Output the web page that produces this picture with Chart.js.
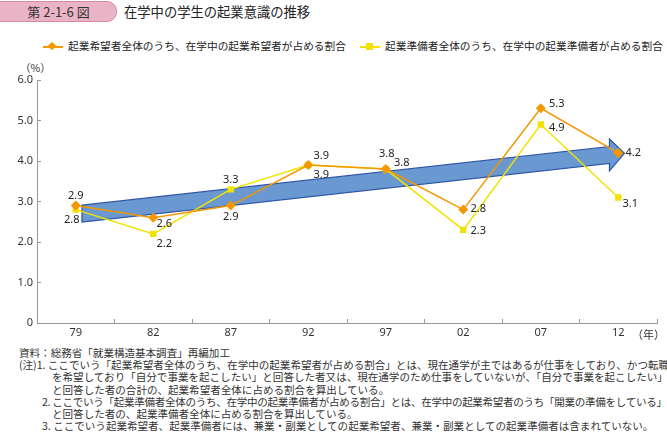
<!DOCTYPE html>
<html lang="ja">
<head>
<meta charset="utf-8">
<script src="https://cdn.jsdelivr.net/npm/chart.js@4"></script>
<style>
  body { margin: 0; width: 667px; height: 433px; position: relative; overflow: hidden; background: #fff;
         font-family: "Noto Sans CJK JP", "Noto Sans", sans-serif; color: #333; }
  #badge { position: absolute; left: -12px; top: 1px; width: 127px; height: 19px; background: #eab3c6;
           border: 1px solid #d58aa5; border-radius: 10px; text-align: center; font-size: 13px; line-height: 19px; color: #333; }
  #badge span { margin-left: 12px; }
  #title { position: absolute; left: 124px; top: 2px; font-size: 13.3px; line-height: 19px; color: #222; }
  .leg { position: absolute; top: 39px; font-size: 10.7px; line-height: 14px; color: #222; white-space: nowrap; }
  .leg i { display: inline-block; position: relative; width: 20px; height: 14px; vertical-align: top; margin-right: 5px; }
  .leg i:before { content: ""; position: absolute; left: 0; top: 7px; width: 20px; height: 1.5px; }
  .leg i:after { content: ""; position: absolute; }
  #leg1 { left: 43px; }
  #leg1 i:before { background: #f39800; }
  #leg1 i:after { left: 6px; top: 4px; width: 6px; height: 6px; background: #f39800; transform: rotate(45deg); }
  #leg2 { left: 360px; }
  #leg2 i:before { background: #f2e200; }
  #leg2 i:after { left: 6px; top: 4px; width: 7px; height: 7px; background: #f2e200; }
  #wrap { position: absolute; left: 0; top: 60px; width: 667px; height: 280px; }
  #pct { position: absolute; left: 20px; top: 60px; font-size: 10.5px; color: #333; }
  #year { position: absolute; left: 632px; top: 326px; font-size: 11px; color: #333; }
  #notes { position: absolute; left: 19px; top: 347px; font-size: 10.55px; line-height: 12.2px; color: #333; white-space: nowrap; }
  #notes div { white-space: nowrap; }
  .in1 { padding-left: 23px; }
  .in2 { padding-left: 33px; }
  .tight { letter-spacing: -0.3px; }
</style>
</head>
<body>
<div id="badge"><span>第 2-1-6 図</span></div>
<div id="title">在学中の学生の起業意識の推移</div>
<div class="leg" id="leg1"><i></i>起業希望者全体のうち、在学中の起業希望者が占める割合</div>
<div class="leg" id="leg2"><i></i>起業準備者全体のうち、在学中の起業準備者が占める割合</div>
<div id="pct">（%）</div>
<div id="wrap"><canvas id="chart"></canvas></div>
<div id="year">（年）</div>
<div id="notes">
  <div>資料：総務省「就業構造基本調査」再編加工</div>
  <div>(注)1. ここでいう「起業希望者全体のうち、在学中の起業希望者が占める割合」とは、現在通学が主ではあるが仕事をしており、かつ転職</div>
  <div class="in2">を希望しており「自分で事業を起こしたい」と回答した者又は、現在通学のため仕事をしていないが、「自分で事業を起こしたい」</div>
  <div class="in2">と回答した者の合計の、起業希望者全体に占める割合を算出している。</div>
  <div class="in1 tight">2. ここでいう「起業準備者全体のうち、在学中の起業準備者が占める割合」とは、在学中の起業希望者のうち「開業の準備をしている」</div>
  <div class="in2">と回答した者の、起業準備者全体に占める割合を算出している。</div>
  <div class="in1">3. ここでいう起業希望者、起業準備者には、兼業・副業としての起業希望者、兼業・副業としての起業準備者は含まれていない。</div>
</div>
<script>
const years = ["79", "82", "87", "92", "97", "02", "07", "12"];
const kibouShare = [2.9, 2.6, 2.9, 3.9, 3.8, 2.8, 5.3, 4.2];
const junbiShare = [2.8, 2.2, 3.3, 3.9, 3.8, 2.3, 4.9, 3.1];
const yTicks = [0, 1, 2, 3, 4, 5, 6];
// trend arrow, in axis units (category index, %)
const arrowFrom = [0.08, 2.7];
const arrowTo = [7.08, 4.19];

// label offsets in px from each point (style only)
const kibouLabelOffset = [[0, -10], [11, 6], [0, 11], [13, 10], [16, -6], [15, -1], [16, -4], [15, 0]];
const junbiLabelOffset = [[-4, 10], [11, 10], [0, -9], [13, -9], [1, -15], [15, 1], [16, 3], [12, 6]];

const ORANGE = "#f39800";
const YELLOW = "#f2e200";

const arrowPlugin = {
    id: "trendArrow",
    beforeDatasetsDraw(chart) {
        const x = chart.scales.x, y = chart.scales.y;
        const ctx = chart.ctx;
        const x0 = x.getPixelForValue(arrowFrom[0]), y0 = y.getPixelForValue(arrowFrom[1]);
        const x1 = x.getPixelForValue(arrowTo[0]), y1 = y.getPixelForValue(arrowTo[1]);
        const slope = (y1 - y0) / (x1 - x0);
        const headLen = 15, bodyHalf = 8.5, headHalf = 16;
        const xb = x1 - headLen;
        const yb = y1 - slope * headLen;
        ctx.save();
        ctx.beginPath();
        ctx.moveTo(x0, y0 - bodyHalf);
        ctx.lineTo(xb, yb - bodyHalf);
        ctx.lineTo(xb, yb - headHalf);
        ctx.lineTo(x1, y1);
        ctx.lineTo(xb, yb + headHalf);
        ctx.lineTo(xb, yb + bodyHalf);
        ctx.lineTo(x0, y0 + bodyHalf);
        ctx.closePath();
        ctx.fillStyle = "#6a98d0";
        ctx.fill();
        ctx.lineWidth = 1.2;
        ctx.strokeStyle = "#2f56a6";
        ctx.stroke();
        ctx.restore();
    }
};

const labelPlugin = {
    id: "pointLabels",
    afterDatasetsDraw(chart) {
        const ctx = chart.ctx;
        const offsets = [kibouLabelOffset, junbiLabelOffset];
        ctx.save();
        ctx.font = "11px 'Noto Sans', sans-serif";
        ctx.fillStyle = "#222";
        ctx.textAlign = "center";
        ctx.textBaseline = "middle";
        chart.data.datasets.forEach((ds, di) => {
            const meta = chart.getDatasetMeta(di);
            meta.data.forEach((pt, i) => {
                const off = offsets[di][i];
                ctx.fillText(ds.data[i].toFixed(1), pt.x + off[0], pt.y + off[1]);
            });
        });
        ctx.restore();
    }
};

document.addEventListener("DOMContentLoaded", function () {
    const canvas = document.getElementById("chart");

    const data = {
        labels: years,
        datasets: [
            {
                label: "起業希望者全体のうち、在学中の起業希望者が占める割合",
                data: kibouShare,
                borderColor: ORANGE,
                backgroundColor: ORANGE,
                borderWidth: 1.5,
                pointStyle: "rectRot",
                pointRadius: 5,
                pointBorderWidth: 0,
                order: 1,
            },
            {
                label: "起業準備者全体のうち、在学中の起業準備者が占める割合",
                data: junbiShare,
                borderColor: YELLOW,
                backgroundColor: YELLOW,
                borderWidth: 1.5,
                pointStyle: "rect",
                pointRadius: 4.5,
                pointBorderWidth: 0,
                order: 2,
            },
        ],
    };

    const config = {
        type: "line",
        data: data,
        plugins: [arrowPlugin, labelPlugin],
        options: {
            responsive: true,
            maintainAspectRatio: false,
            animation: false,
            layout: { padding: { top: 20, right: 10, left: 0, bottom: 0 } },
            plugins: {
                legend: { display: false },
                tooltip: { enabled: false },
            },
            scales: {
                x: {
                    offset: true,
                    afterFit: (s) => { s.height = 17; },
                    grid: { offset: true, drawOnChartArea: false, tickLength: -4, color: "#999" },
                    border: { color: "#999" },
                    ticks: { color: "#333", font: { size: 11, family: "'Noto Sans', sans-serif" }, padding: 7, maxRotation: 0 },
                },
                y: {
                    min: 0,
                    max: 6,
                    afterFit: (s) => { s.width = 37; },
                    afterBuildTicks: (s) => { s.ticks = yTicks.map((v) => ({ value: v })); },
                    grid: { drawOnChartArea: false, tickLength: -4, color: "#999" },
                    border: { color: "#999" },
                    ticks: {
                        color: "#333",
                        font: { size: 11, family: "'Noto Sans', sans-serif" },
                        padding: 8,
                        callback: (v) => (v === 0 ? "0" : v.toFixed(1)),
                    },
                },
            },
        },
    };

    new Chart(canvas, config);
});
</script>
</body>
</html>
